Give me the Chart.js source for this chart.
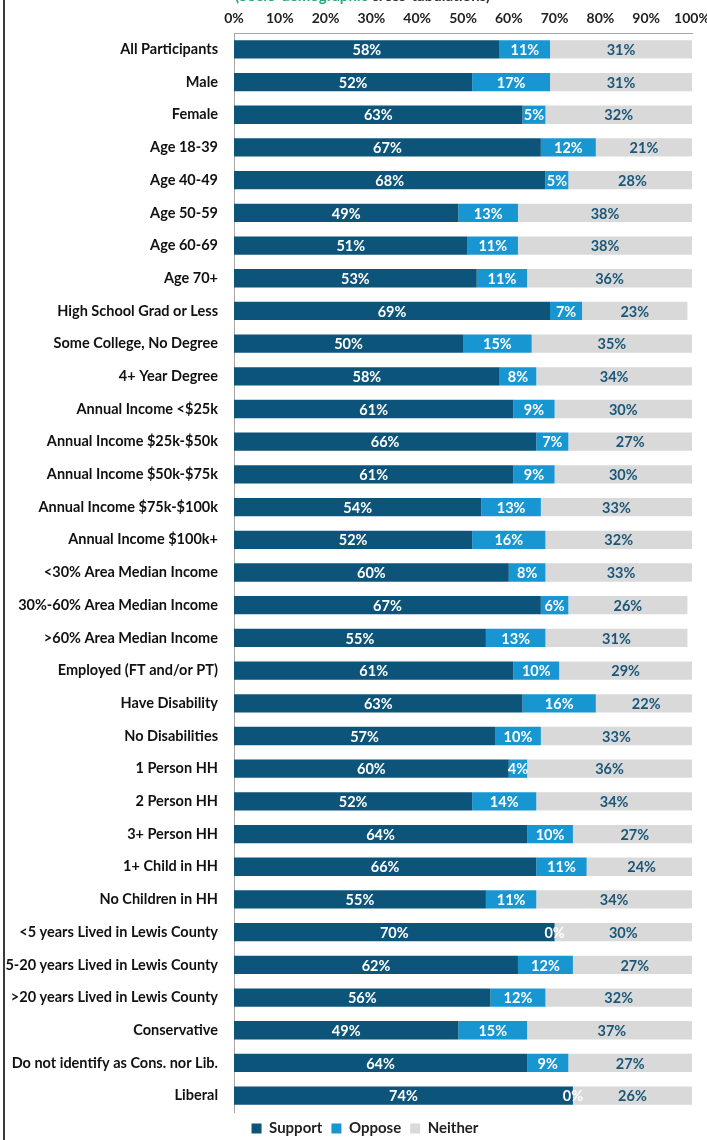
<!DOCTYPE html>
<html>
<head>
<meta charset="utf-8">
<script src="https://cdn.jsdelivr.net/npm/chart.js@4/dist/chart.umd.min.js"></script>
<style>
    html, body { margin: 0; padding: 0; background: #fff; }
    .wrap { position: relative; width: 707px; height: 1140px; }
</style>
</head>
<body>
<div class="wrap"><canvas id="crossTabChart"></canvas></div>
<script>
// Support / oppose / neither by respondent group (percent)
const groups = [
    'All Participants', 'Male', 'Female', 'Age 18-39', 'Age 40-49', 'Age 50-59',
    'Age 60-69', 'Age 70+', 'High School Grad or Less', 'Some College, No Degree',
    '4+ Year Degree', 'Annual Income <$25k', 'Annual Income $25k-$50k',
    'Annual Income $50k-$75k', 'Annual Income $75k-$100k', 'Annual Income $100k+',
    '<30% Area Median Income', '30%-60% Area Median Income', '>60% Area Median Income',
    'Employed (FT and/or PT)', 'Have Disability', 'No Disabilities', '1 Person HH',
    '2 Person HH', '3+ Person HH', '1+ Child in HH', 'No Children in HH',
    '<5 years Lived in Lewis County', '5-20 years Lived in Lewis County',
    '>20 years Lived in Lewis County', 'Conservative',
    'Do not identify as Cons. nor Lib.', 'Liberal'
];
const support = [58, 52, 63, 67, 68, 49, 51, 53, 69, 50, 58, 61, 66, 61, 54, 52, 60, 67, 55, 61, 63, 57, 60, 52, 64, 66, 55, 70, 62, 56, 49, 64, 74];
const oppose  = [11, 17, 5, 12, 5, 13, 11, 11, 7, 15, 8, 9, 7, 9, 13, 16, 8, 6, 13, 10, 16, 10, 4, 14, 10, 11, 11, 0, 12, 12, 15, 9, 0];
const neither = [31, 31, 32, 21, 28, 38, 38, 36, 23, 35, 34, 30, 27, 30, 33, 32, 33, 26, 31, 29, 22, 33, 36, 34, 27, 24, 34, 30, 27, 32, 37, 27, 26];
const seriesNames = ['Support', 'Oppose', 'Neither'];
const xTicks = [0, 10, 20, 30, 40, 50, 60, 70, 80, 90, 100];

const FONT = "Lato, 'Open Sans', sans-serif";
const colSupport = '#0c5479';
const colOppose = '#1796d2';
const colNeither = '#d9d9d9';

// value labels centred in each segment
const segmentLabels = {
    id: 'segmentLabels',
    afterDatasetsDraw(chart) {
        const ctx = chart.ctx;
        ctx.save();
        ctx.font = 'bold 14.5px ' + FONT;
        ctx.textAlign = 'center';
        ctx.textBaseline = 'middle';
        chart.data.datasets.forEach((ds, i) => {
            const meta = chart.getDatasetMeta(i);
            ctx.fillStyle = ds.labelColor;
            meta.data.forEach((bar, j) => {
                const cx = (bar.x + bar.base) / 2;
                ctx.fillText(ds.data[j] + '%', cx, bar.y + 1);
            });
        });
        ctx.restore();
    }
};

// nudge the legend a little to the right of the page centre
const legendShift = {
    id: 'legendShift',
    afterLayout(chart) {
        if (chart.legend) {
            chart.legend.left += 19;
            chart.legend.right += 19;
        }
    }
};

// page frame line and the clipped heading at the very top
const frame = {
    id: 'frame',
    beforeDraw(chart) {
        const ctx = chart.ctx;
        ctx.save();
        ctx.fillStyle = '#fff';
        ctx.fillRect(0, 0, chart.width, chart.height);
        ctx.fillStyle = '#3a3a3a';
        ctx.fillRect(3, 0, 2, chart.height);

        ctx.font = 'bold 15px ' + FONT;
        ctx.textBaseline = 'alphabetic';
        ctx.textAlign = 'left';
        const part1 = '(Socio-demographic';
        const part2 = ' cross-tabulations)';
        ctx.fillStyle = '#2aa57e';
        ctx.fillText(part1, 235, 1);
        const w = ctx.measureText(part1).width;
        ctx.fillStyle = '#333';
        ctx.fillText(part2, 235 + w, 1);
        ctx.restore();
    }
};

new Chart(document.getElementById('crossTabChart'), {
    type: 'bar',
    data: {
        labels: groups,
        datasets: [
            { label: seriesNames[0], data: support, backgroundColor: colSupport, labelColor: '#fff' },
            { label: seriesNames[1], data: oppose, backgroundColor: colOppose, labelColor: '#fff' },
            { label: seriesNames[2], data: neither, backgroundColor: colNeither, labelColor: '#1b5678' }
        ]
    },
    options: {
        indexAxis: 'y',
        responsive: true,
        maintainAspectRatio: false,
        animation: false,
        datasets: {
            bar: { categoryPercentage: 1, barPercentage: 0.56, borderWidth: 0 }
        },
        layout: { padding: { top: 0, right: 15, bottom: -6, left: 0 } },
        plugins: {
            legend: {
                position: 'bottom',
                labels: {
                    boxWidth: 10,
                    boxHeight: 10,
                    padding: 9,
                    color: '#222',
                    font: { family: FONT, size: 15, weight: 'bold' }
                }
            },
            tooltip: { enabled: false }
        },
        scales: {
            x: {
                position: 'top',
                stacked: true,
                min: 0,
                max: 100,
                afterBuildTicks(scale) {
                    scale.ticks = xTicks.map(v => ({ value: v }));
                },
                afterFit(scale) {
                    scale.height = 33;
                    scale.paddingLeft = 0;
                    scale.paddingRight = 0;
                },
                grid: { display: false, drawTicks: false },
                border: { display: true, color: '#a6a6a6', width: 1 },
                ticks: {
                    padding: 6,
                    color: '#222',
                    font: { family: FONT, size: 14, weight: 'bold' },
                    callback: v => v + '%'
                }
            },
            y: {
                stacked: true,
                afterFit(scale) { scale.width = 234; },
                grid: { display: false, drawTicks: false },
                border: { display: true, color: '#a6a6a6', width: 1 },
                ticks: {
                    padding: 16,
                    color: '#111',
                    autoSkip: false,
                    font: { family: FONT, size: 14.5, weight: 'bold' }
                }
            }
        }
    },
    plugins: [frame, legendShift, segmentLabels]
});
</script>
</body>
</html>
